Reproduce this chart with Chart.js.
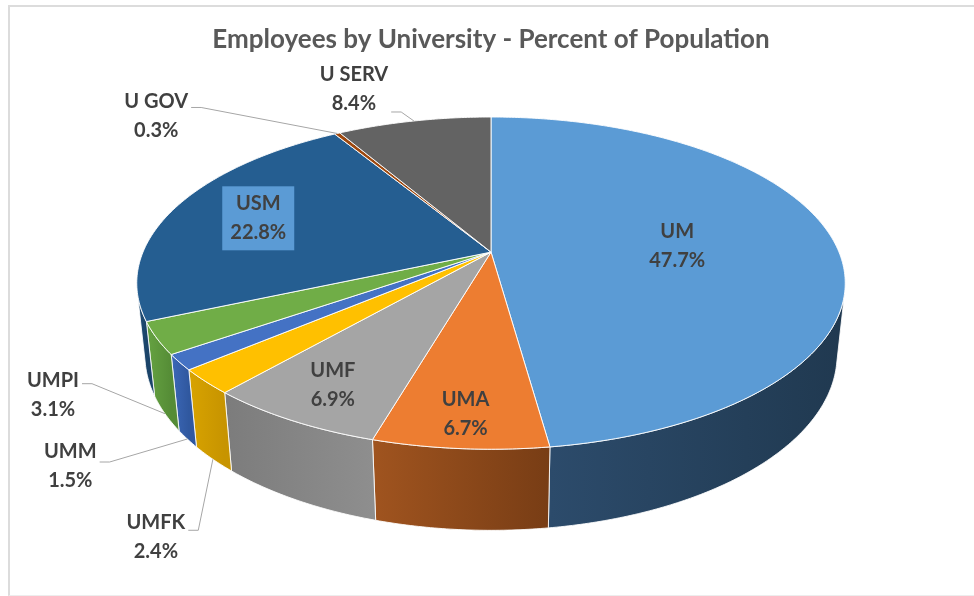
<!DOCTYPE html>
<html>
<head>
<meta charset="utf-8">
<title>Employees by University</title>
<script src="https://cdn.jsdelivr.net/npm/chart.js@4.4.0/dist/chart.umd.min.js"></script>
<style>
  html, body { margin: 0; padding: 0; background: #fff; }
  #wrap { position: relative; width: 974px; height: 596px; overflow: hidden; }
  #frame {
    position: absolute; left: 8px; top: 5px; right: -4px; bottom: 0;
    border-left: 2px solid #DCDCDC; border-top: 2px solid #DCDCDC; border-bottom: 1px solid #EDEDED;
  }
  #pieChart { position: absolute; left: 0; top: 0; }
</style>
</head>
<body>
<div id="wrap">
  <div id="frame"></div>
  <canvas id="pieChart" width="974" height="596"></canvas>
</div>
<script>
/* ======================================================
   Data
=========================================================*/
const universities = ["UM", "UMA", "UMF", "UMFK", "UMM", "UMPI", "USM", "U GOV", "U SERV"];
const percentOfPopulation = [47.7, 6.7, 6.9, 2.4, 1.5, 3.1, 22.8, 0.3, 8.4];

/* ======================================================
   Styles
=========================================================*/
const sliceColors = ["#5B9BD5", "#ED7D31", "#A5A5A5", "#FFC000", "#4472C4", "#70AD47", "#255E91", "#9E480E", "#636363"];
// side wall shading, [left, right]
const wallColors = [
  ["#2C4B6B", "#203950"],
  ["#A0541F", "#783D15"],
  ["#7C7C7C", "#8E8E8E"],
  ["#D8A300", "#C79400"],
  ["#3C68B8", "#30589F"],
  ["#66A342", "#558C36"],
  ["#1F4E79", "#1B4469"],
  ["#7E390B", "#6E320A"],
  ["#4F4F4F", "#444444"]
];
const textColor = "#404040";
const labelFont = "bold 20px Lato";
const lineGap = 29;

// label placement: inside labels sit at a fraction of the radius,
// callouts are offset from the rim point of their slice
const insideLabels = { "UM": 0.54, "UMA": 0.85, "UMF": 0.82, "USM": 0.73 };
const boxedLabels = { "USM": "#5B9BD5" };
const calloutLabels = {
  "UMFK": { dx: -57, dy: 78, attach: -7 },
  "UMM": { dx: -117, dy: 27, attach: -4 },
  "UMPI": { dx: -112, dy: -19, attach: -11 },
  "U GOV": { dx: -181, dy: -17, attach: -9 },
  "U SERV": { dx: -60, dy: -32, attach: 23 }
};

/* ======================================================
   Perspective helpers
=========================================================*/
function makeCamera(arc, opts) {
  const tilt = opts.tilt * Math.PI / 180;
  return {
    cx: arc.x,
    cy: arc.y,
    f: arc.outerRadius * opts.distance,
    L: opts.distance,
    sa: Math.sin(tilt),
    ca: Math.cos(tilt),
    depth: opts.depth
  };
}

// t = fraction of radius, z = height (0 top face, negative downwards)
function project(cam, theta, t, z) {
  const u = t * Math.cos(theta), v = t * Math.sin(theta);
  const d = cam.L - v * cam.ca - z * cam.sa;
  return {
    x: cam.cx + cam.f * u / d,
    y: cam.cy + cam.f * (v * cam.sa - z * cam.ca) / d
  };
}

function rimPoints(cam, from, to, z) {
  const steps = Math.max(2, Math.ceil(Math.abs(to - from) / 0.01));
  const pts = [];
  for (let k = 0; k <= steps; k++) {
    pts.push(project(cam, from + (to - from) * k / steps, 1, z));
  }
  return pts;
}

/* ======================================================
   3D pie plugin (draws the library's arc elements in perspective)
=========================================================*/
const pie3d = {
  id: "pie3d",
  beforeDatasetDraw(chart, args, opts) {
    const ctx = chart.ctx;
    const arcs = args.meta.data;
    const cam = makeCamera(arcs[0], opts);
    const f0 = Math.asin(Math.min(1, 1 / (cam.L * cam.ca)));
    const f1 = Math.PI - f0;

    ctx.save();
    ctx.lineJoin = "round";

    // walls
    arcs.forEach((arc, i) => {
      const a = Math.max(arc.startAngle, f0);
      const b = Math.min(arc.endAngle, f1);
      if (a >= b) return;
      const top = rimPoints(cam, a, b, 0);
      const bottom = rimPoints(cam, b, a, -cam.depth);
      ctx.beginPath();
      top.concat(bottom).forEach((p, k) => (k ? ctx.lineTo(p.x, p.y) : ctx.moveTo(p.x, p.y)));
      ctx.closePath();
      const xs = top.map((p) => p.x);
      const g = ctx.createLinearGradient(Math.min(...xs), 0, Math.max(...xs), 0);
      g.addColorStop(0, wallColors[i][0]);
      g.addColorStop(1, wallColors[i][1]);
      ctx.fillStyle = g;
      ctx.fill();
      ctx.strokeStyle = "rgba(255,255,255,0.85)";
      ctx.lineWidth = 1;
      ctx.stroke();
    });

    // top face
    arcs.forEach((arc) => {
      const o = arc.options;
      const rim = rimPoints(cam, arc.startAngle, arc.endAngle, 0);
      ctx.beginPath();
      ctx.moveTo(cam.cx, cam.cy);
      rim.forEach((p) => ctx.lineTo(p.x, p.y));
      ctx.closePath();
      ctx.fillStyle = o.backgroundColor;
      ctx.fill();
      ctx.strokeStyle = o.borderColor;
      ctx.lineWidth = o.borderWidth;
      ctx.stroke();
    });

    ctx.restore();
    return false;
  },

  afterDatasetsDraw(chart, args, opts) {
    const ctx = chart.ctx;
    const meta = chart.getDatasetMeta(0);
    const values = chart.data.datasets[0].data;
    const cam = makeCamera(meta.data[0], opts);

    ctx.save();
    ctx.font = labelFont;
    ctx.textAlign = "center";
    ctx.textBaseline = "middle";

    meta.data.forEach((arc, i) => {
      const name = chart.data.labels[i];
      const lines = [name, values[i].toFixed(1) + "%"];
      const mid = (arc.startAngle + arc.endAngle) / 2;
      let cx, cy;

      if (insideLabels[name] !== undefined) {
        const p = project(cam, mid, insideLabels[name], 0);
        cx = p.x; cy = p.y;
        if (boxedLabels[name]) {
          ctx.fillStyle = boxedLabels[name];
          ctx.fillRect(cx - 36, cy - 32, 72, 64);
        }
      } else if (calloutLabels[name]) {
        const c = calloutLabels[name];
        const anchor = project(cam, mid, 1, Math.sin(mid) > 0 ? -cam.depth : 0);
        cx = anchor.x + c.dx;
        cy = anchor.y + c.dy;
        const w = Math.max(...lines.map((s) => ctx.measureText(s).width));
        const xr = cx + w / 2 + 3;
        const ya = cy + c.attach;
        ctx.beginPath();
        ctx.moveTo(xr, ya);
        ctx.lineTo(xr + 10, ya);
        ctx.lineTo(anchor.x, anchor.y);
        ctx.strokeStyle = "#A6A6A6";
        ctx.lineWidth = 1;
        ctx.stroke();
      } else {
        return;
      }

      ctx.fillStyle = textColor;
      ctx.fillText(lines[0], cx, cy - lineGap / 2);
      ctx.fillText(lines[1], cx, cy + lineGap / 2);
    });

    ctx.restore();
  }
};

/* ======================================================
   Chart
=========================================================*/
new Chart(document.getElementById("pieChart"), {
  type: "pie",
  data: {
    labels: universities,
    datasets: [
      {
        data: percentOfPopulation,
        backgroundColor: sliceColors,
        borderColor: "rgba(255,255,255,0.9)",
        borderWidth: 1
      }
    ]
  },
  options: {
    responsive: false,
    animation: false,
    events: [],
    radius: 348,
    layout: { padding: { left: 8, right: 0, top: 0, bottom: 157 } },
    plugins: {
      legend: { display: false },
      tooltip: { enabled: false },
      title: {
        display: true,
        text: "Employees by University - Percent of Population",
        color: "#595959",
        font: { family: "Lato", size: 26, weight: "bold", lineHeight: 1.2 },
        padding: { top: 24, bottom: 10 }
      },
      pie3d: { tilt: 27.43, distance: 4.754, depth: 0.234 }
    }
  },
  plugins: [pie3d]
});
</script>
</body>
</html>
